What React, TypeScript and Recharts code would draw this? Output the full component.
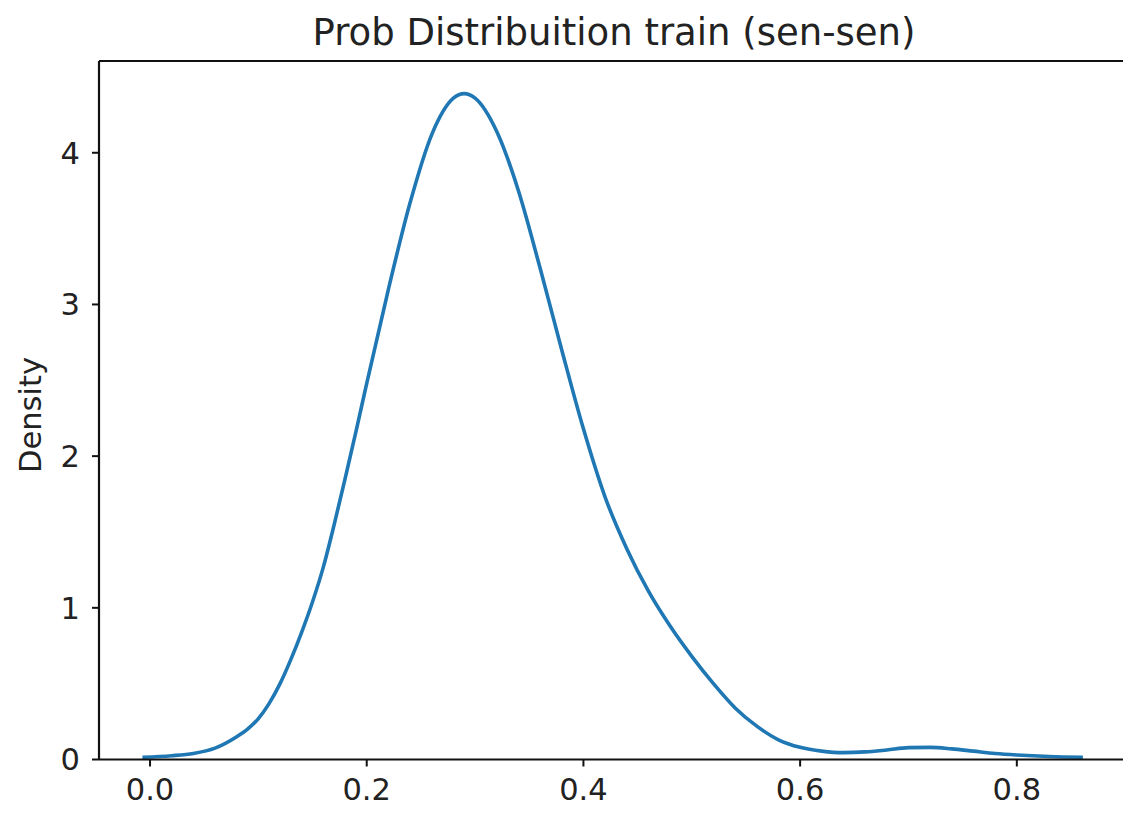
import React from 'react';
import { LineChart, Line, XAxis, YAxis, ReferenceLine } from 'recharts';

// kde curve
const probs = [
  -0.007, 0.02, 0.04, 0.06, 0.08, 0.09, 0.1, 0.11, 0.12, 0.13, 0.14, 0.15,
  0.16, 0.17, 0.18, 0.19, 0.2, 0.22, 0.24, 0.26, 0.28, 0.29, 0.3, 0.32,
  0.34, 0.36, 0.38, 0.4, 0.42, 0.44, 0.46, 0.48, 0.5, 0.52, 0.54, 0.56,
  0.58, 0.6, 0.62, 0.64, 0.66, 0.68, 0.7, 0.72, 0.74, 0.76, 0.78, 0.8,
  0.83, 0.861,
];
const density = [
  0.015, 0.025, 0.04, 0.075, 0.15, 0.2, 0.27, 0.37, 0.5, 0.66, 0.84, 1.04,
  1.27, 1.55, 1.85, 2.16, 2.48, 3.1, 3.67, 4.12, 4.36, 4.39, 4.36, 4.14,
  3.75, 3.24, 2.7, 2.18, 1.73, 1.39, 1.11, 0.88, 0.68, 0.5, 0.34, 0.22,
  0.13, 0.08, 0.055, 0.045, 0.05, 0.063, 0.078, 0.08, 0.07, 0.055, 0.04, 0.03,
  0.02, 0.015,
];
const xTicks = [0, 0.2, 0.4, 0.6, 0.8];
const yTicks = [0, 1, 2, 3, 4];

const X_MIN = -0.0471;
const X_MAX = 0.898;
const Y_MAX = 4.605;

const data = probs.map((x, i) => ({ x, y: density[i] }));

const font = 'DejaVu Sans, sans-serif';
const tickStyle = { fill: '#222', fontSize: 30.5, fontFamily: font };

const App = () => {
  return (
    <div style={{ position: 'absolute', left: 0, top: 0, width: 1123, height: 818, background: '#fff' }}>
      <div
        style={{
          position: 'absolute',
          left: 0,
          width: 1228,
          top: 14,
          textAlign: 'center',
          fontFamily: font,
          fontSize: 37,
          lineHeight: '37px',
          color: '#222',
          whiteSpace: 'nowrap',
        }}
      >
        Prob Distribuition train (sen-sen)
      </div>
      <div
        style={{
          position: 'absolute',
          left: 31,
          top: 415,
          transform: 'translate(-50%, -50%) rotate(-90deg)',
          fontFamily: font,
          fontSize: 30.5,
          lineHeight: '30.5px',
          color: '#222',
          whiteSpace: 'nowrap',
        }}
      >
        Density
      </div>
      <LineChart
        width={1123}
        height={818}
        data={data}
        margin={{ top: 61, right: 0, left: 0, bottom: 0 }}
        style={{ position: 'absolute', left: 0, top: 0 }}
      >
        <XAxis
          dataKey="x"
          type="number"
          domain={[X_MIN, X_MAX]}
          allowDataOverflow
          ticks={xTicks}
          tickFormatter={(v: number) => v.toFixed(1)}
          height={58.5}
          tickSize={7}
          tickMargin={12}
          axisLine={{ stroke: '#111', strokeWidth: 2.2 }}
          tickLine={{ stroke: '#111', strokeWidth: 2 }}
          tick={tickStyle}
        />
        <YAxis
          type="number"
          domain={[0, Y_MAX]}
          allowDataOverflow
          ticks={yTicks}
          width={99}
          tickSize={7}
          tickMargin={12}
          axisLine={{ stroke: '#111', strokeWidth: 2.2 }}
          tickLine={{ stroke: '#111', strokeWidth: 2 }}
          tick={tickStyle}
        />
        <ReferenceLine y={Y_MAX} stroke="#111" strokeWidth={2.2} />
        <Line
          dataKey="y"
          type="monotone"
          stroke="#1f77b4"
          strokeWidth={3.6}
          dot={false}
          isAnimationActive={false}
        />
      </LineChart>
    </div>
  );
};

export default App;
